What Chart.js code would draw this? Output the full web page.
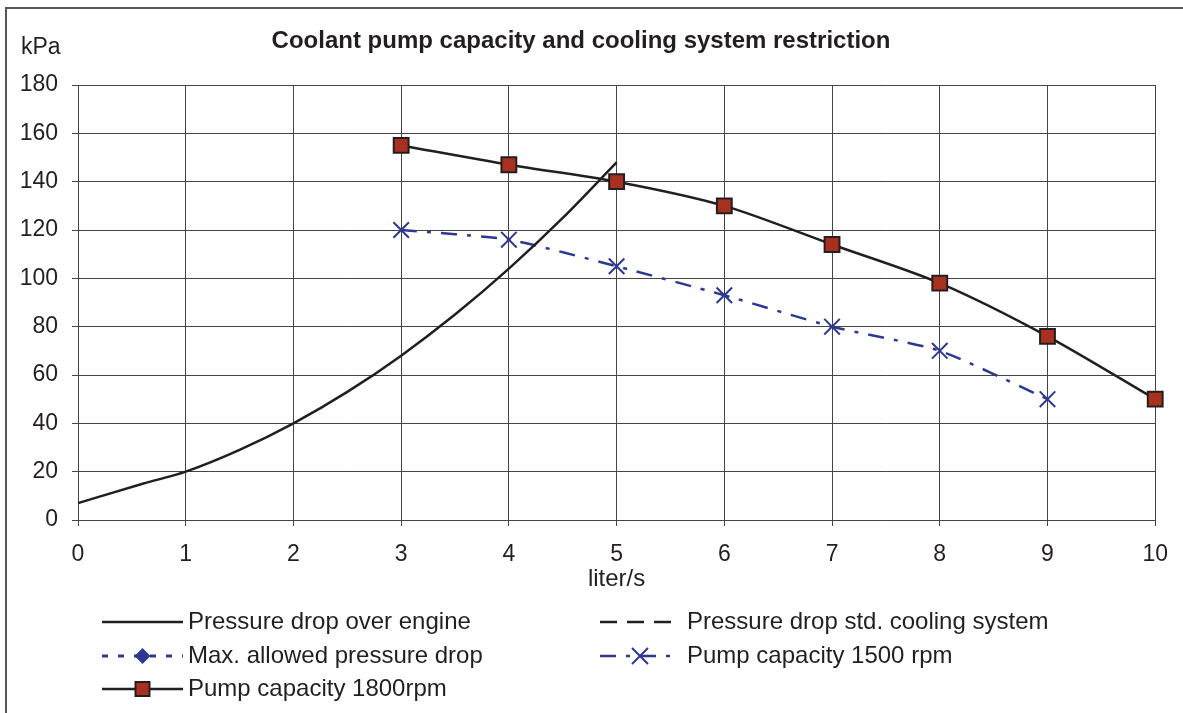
<!DOCTYPE html>
<html><head><meta charset="utf-8">
<script src="https://cdn.jsdelivr.net/npm/chart.js@4/dist/chart.umd.min.js"></script>
<style>html,body{margin:0;padding:0;background:#fff}canvas{display:block}</style>
</head><body>
<canvas id="c" width="1183" height="713"></canvas>
<script>
// ---- data ----
const chartTitle = 'Coolant pump capacity and cooling system restriction';
const yAxisLabel = 'kPa';
const xAxisLabel = 'liter/s';
const xTickValues = [0,1,2,3,4,5,6,7,8,9,10];
const yTickValues = [0,20,40,60,80,100,120,140,160,180];
const seriesNames = ['Pressure drop over engine','Pressure drop std. cooling system','Max. allowed pressure drop','Pump capacity 1500 rpm','Pump capacity 1800rpm'];
const engineFlow = [0,0.6,1,1.5,2,2.5,3,3.5,4,4.5,5];
const engineDrop = [7,15,20,29,40,53,68,85,104,125,148];
const stdSystemFlow = [];
const stdSystemDrop = [];
const maxAllowedFlow = [];
const maxAllowedDrop = [];
const pump1500Flow = [3,4,5,6,7,8,9];
const pump1500 = [120,116,105,93,80,70,50];
const pump1800Flow = [3,4,5,6,7,8,9,10];
const pump1800 = [155,147,140,130,114,98,76,50];

const pts = (xs, ys) => xs.map((x,i)=>({x:x, y:ys[i]}));
const FONT = "'Liberation Sans', Arial, sans-serif";
const INK = '#231F20';
const BLUE = '#2B3990';
const RED = '#A8301F';

const datasets = [
  {label: seriesNames[0], data: pts(engineFlow, engineDrop), borderColor: INK, borderWidth: 2.5, pointRadius: 0, tension: 0.4, cubicInterpolationMode: 'monotone', clip: false},
  {label: seriesNames[1], data: pts(stdSystemFlow, stdSystemDrop), borderColor: INK, borderWidth: 2.5, borderDash: [17,10], pointRadius: 0, clip: false},
  {label: seriesNames[2], data: pts(maxAllowedFlow, maxAllowedDrop), borderColor: BLUE, backgroundColor: BLUE, borderWidth: 3, borderDash: [6,10], pointStyle: 'rectRot', pointRadius: 7, clip: false},
  {label: seriesNames[3], data: pts(pump1500Flow, pump1500), borderColor: BLUE, borderWidth: 2.5, borderDash: [16,10,4,10], pointStyle: 'crossRot', pointRadius: 11, pointBorderWidth: 2, pointBorderColor: BLUE, tension: 0.2, clip: false},
  {label: seriesNames[4], data: pts(pump1800Flow, pump1800), borderColor: INK, borderWidth: 2.5, pointStyle: 'rect', pointRadius: 10.5, pointBackgroundColor: RED, pointBorderColor: INK, pointBorderWidth: 2, tension: 0.3, clip: false}
];

const legendLayout = [
  {ds: 0, col: 0, row: 0, x1: 183},
  {ds: 1, col: 1, row: 0, x1: 672},
  {ds: 2, col: 0, row: 1, x1: 183},
  {ds: 3, col: 1, row: 1, x1: 676},
  {ds: 4, col: 0, row: 2, x1: 183}
];

const decor = {
  id: 'decor',
  afterDraw(chart) {
    const ctx = chart.ctx;
    ctx.save();
    // frame
    ctx.strokeStyle = '#555';
    ctx.lineWidth = 2;
    ctx.beginPath();
    ctx.moveTo(6, 713); ctx.lineTo(6, 8); ctx.lineTo(1183, 8);
    ctx.stroke();
    // title
    ctx.fillStyle = INK;
    ctx.textBaseline = 'middle';
    ctx.textAlign = 'center';
    ctx.font = 'bold 24px ' + FONT;
    ctx.fillText(chartTitle, 581, 41);
    // kPa
    ctx.textAlign = 'left';
    ctx.font = '23px ' + FONT;
    ctx.fillText(yAxisLabel, 21, 48);
    // legend
    const cols = [{x0: 102, tx: 188}, {x0: 600, tx: 687}];
    const rows = [622, 656, 689];
    legendLayout.forEach(item => {
      const ds = chart.data.datasets[item.ds];
      const c = cols[item.col], y = rows[item.row];
      ctx.save();
      ctx.strokeStyle = ds.borderColor;
      ctx.lineWidth = ds.borderWidth;
      ctx.setLineDash(ds.borderDash || []);
      ctx.beginPath();
      ctx.moveTo(c.x0, y); ctx.lineTo(item.x1, y);
      ctx.stroke();
      ctx.setLineDash([]);
      const cx = ds.pointStyle === 'crossRot' ? 640 : (c.x0 + item.x1) / 2;
      if (ds.pointStyle === 'rect') {
        ctx.fillStyle = ds.pointBackgroundColor;
        ctx.strokeStyle = ds.pointBorderColor;
        ctx.lineWidth = 2;
        ctx.fillRect(cx-7, y-7, 14, 14);
        ctx.strokeRect(cx-7, y-7, 14, 14);
      } else if (ds.pointStyle === 'rectRot') {
        ctx.fillStyle = ds.backgroundColor;
        ctx.beginPath();
        ctx.moveTo(cx, y-8); ctx.lineTo(cx+8, y); ctx.lineTo(cx, y+8); ctx.lineTo(cx-8, y);
        ctx.closePath(); ctx.fill();
      } else if (ds.pointStyle === 'crossRot') {
        ctx.strokeStyle = ds.pointBorderColor;
        ctx.lineWidth = 2;
        ctx.beginPath();
        ctx.moveTo(cx-8, y-8); ctx.lineTo(cx+8, y+8);
        ctx.moveTo(cx+8, y-8); ctx.lineTo(cx-8, y+8);
        ctx.stroke();
      }
      ctx.restore();
      ctx.fillStyle = INK;
      ctx.font = '24px ' + FONT;
      ctx.textAlign = 'left';
      ctx.textBaseline = 'middle';
      ctx.fillText(ds.label, c.tx, y);
    });
    ctx.restore();
  }
};

new Chart(document.getElementById('c'), {
  type: 'line',
  data: {datasets},
  options: {
    responsive: false,
    animation: false,
    devicePixelRatio: 1,
    layout: {padding: {top: 85, right: 25, left: 0, bottom: 0}},
    plugins: {legend: {display: false}, title: {display: false}, tooltip: {enabled: false}},
    scales: {
      x: {
        type: 'linear', min: 0, max: 10,
        afterBuildTicks: s => { s.ticks = xTickValues.map(v => ({value: v})); },
        afterFit: s => { s.height = 713 - 520; },
        grid: {color: '#444', lineWidth: 1, tickLength: 6, drawTicks: true},
        border: {color: '#444', width: 1},
        ticks: {color: INK, font: {family: FONT, size: 23}, padding: 15, maxRotation: 0, autoSkip: false},
        title: {display: true, text: xAxisLabel, color: INK, font: {family: FONT, size: 24}, padding: {top: 0, bottom: 119}}
      },
      y: {
        type: 'linear', min: 0, max: 180,
        afterBuildTicks: s => { s.ticks = yTickValues.map(v => ({value: v})); },
        afterFit: s => { s.width = 78; },
        grid: {color: '#444', lineWidth: 1, tickLength: 6, drawTicks: true},
        border: {color: '#444', width: 1},
        ticks: {color: INK, font: {family: FONT, size: 23}, padding: 14, autoSkip: false}
      }
    }
  },
  plugins: [decor]
});
</script>
</body></html>
